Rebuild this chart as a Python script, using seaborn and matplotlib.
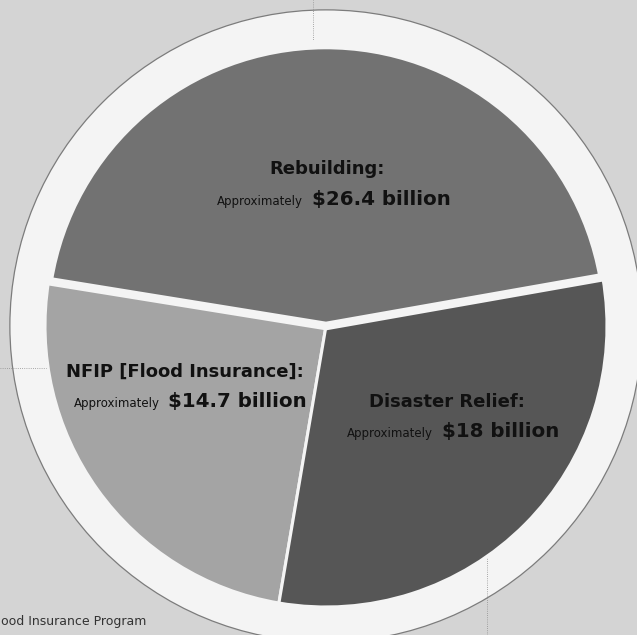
import matplotlib
matplotlib.use("Agg")
import matplotlib.pyplot as plt
from matplotlib.patches import Circle
import seaborn as sns

# Spending categories and their amounts (billions of dollars)
categories = ["Rebuilding", "NFIP [Flood Insurance]", "Disaster Relief"]
amounts = [26.4, 14.7, 18.0]
qualifier = "Approximately"
footnote = "ood Insurance Program"

sns.set_theme(style="white")
plt.rcParams["font.family"] = ["DejaVu Sans"]

slice_colors = sns.color_palette(["#727272", "#a4a4a4", "#565656"])
bg_color = "#d4d4d4"
ring_color = "#f4f4f4"
text_color = "#111111"

W, H = 637, 635
fig = plt.figure(figsize=(W / 100, H / 100), dpi=100, facecolor=bg_color)
ax = fig.add_axes([0, 0, 1, 1])
ax.set_facecolor(bg_color)

# pixel frame of the pie: centre and radius
CX, CY, RP = 326, 326, 281


def to_data(x, y):
    return (x - CX) / RP, (CY - y) / RP


# white ring around the pie
ax.add_patch(Circle((0, 0), 1.125, facecolor=ring_color, edgecolor="#7c7c7c",
                    lw=0.9, zorder=0.5))

# faint guide lines behind the pie
guide = dict(color="#8e8e8e", lw=0.6, ls=(0, (1, 1.6)), zorder=0.8)
ax.axvline(to_data(313, 0)[0], ymin=1 - 46 / H, ymax=1, **guide)
ax.axvline(to_data(487, 0)[0], ymin=0, ymax=1 - 558 / H, **guide)
ax.axhline(to_data(0, 368)[1], xmin=0, xmax=48 / W, **guide)

wedges, _ = ax.pie(amounts, colors=slice_colors, startangle=10, counterclock=True,
                   radius=1.0,
                   wedgeprops=dict(edgecolor=ring_color, linewidth=2.2, zorder=2))
# wider gap around the largest slice
wedges[0].set_linewidth(6.2)
wedges[0].set_zorder(3)

ax.set_aspect("auto")
ax.set_xlim(-CX / RP, (W - CX) / RP)
ax.set_ylim(-(H - CY) / RP, CY / RP)
ax.axis("off")

# label layout in pixels: header centre x, header baseline, split x, amount baseline
label_layout = [
    (327, 174, 307.5, 205),
    (185, 377, 164.0, 407),
    (447, 407, 437.5, 437),
]
gap = 4.5 / RP
for cat, val, (hx, hy, sx, ay) in zip(categories, amounts, label_layout):
    x0, y0 = to_data(hx, hy)
    ax.text(x0, y0, f"{cat}:", ha="center", va="baseline", fontsize=13,
            fontweight="bold", color=text_color, zorder=5)
    x1, y1 = to_data(sx, ay)
    ax.text(x1 - gap, y1, qualifier, ha="right", va="baseline", fontsize=8.5,
            color=text_color, zorder=5)
    ax.text(x1 + gap, y1, f"${val:g} billion", ha="left", va="baseline",
            fontsize=14.3, fontweight="bold", color=text_color, zorder=5)

fig.text(1 / W, 1 - 622 / H, footnote, ha="left", va="center",
         fontsize=9, color="#333333")

fig.savefig("out.png", dpi=100, facecolor=bg_color)
